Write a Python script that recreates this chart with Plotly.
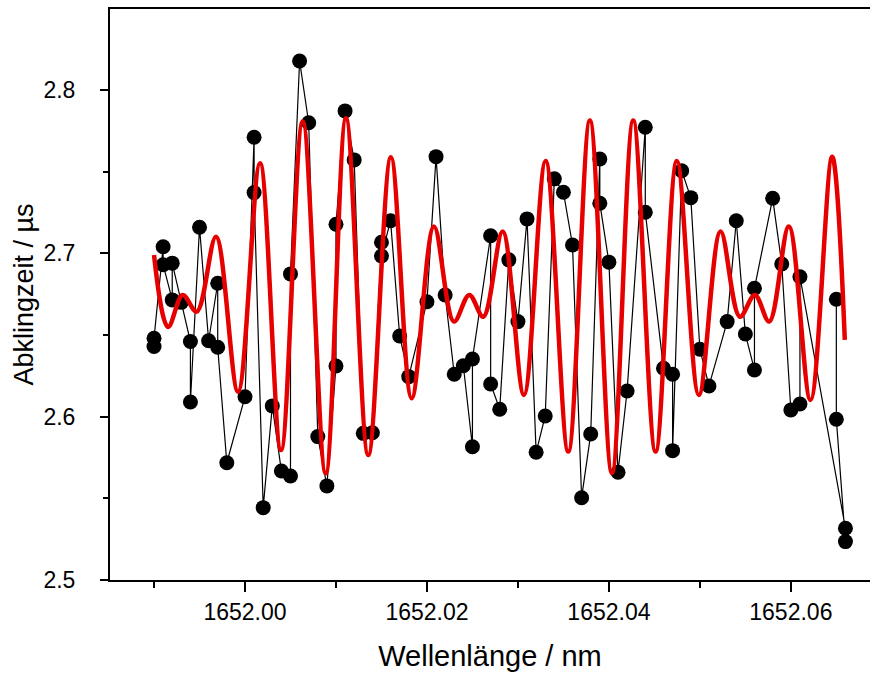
import plotly.graph_objects as go

# measured data (drawing order)
wl = [1651.990, 1651.990, 1651.991, 1651.991, 1651.992, 1651.992, 1651.993, 1651.994, 1651.994,
      1651.995, 1651.996, 1651.997, 1651.997, 1651.998, 1652.000, 1652.001, 1652.001, 1652.002,
      1652.003, 1652.004, 1652.005, 1652.005, 1652.006, 1652.007, 1652.008, 1652.009, 1652.010,
      1652.010, 1652.011, 1652.012, 1652.013, 1652.014, 1652.015, 1652.015, 1652.016, 1652.017,
      1652.018, 1652.020, 1652.021, 1652.022, 1652.023, 1652.024, 1652.025, 1652.025, 1652.027,
      1652.027, 1652.028, 1652.029, 1652.030, 1652.031, 1652.032, 1652.033, 1652.034, 1652.035,
      1652.036, 1652.037, 1652.038, 1652.039, 1652.039, 1652.040, 1652.041, 1652.042, 1652.044,
      1652.044, 1652.046, 1652.047, 1652.047, 1652.048, 1652.049, 1652.050, 1652.051, 1652.053,
      1652.054, 1652.055, 1652.056, 1652.056, 1652.058, 1652.059, 1652.060, 1652.061, 1652.061,
      1652.066, 1652.066, 1652.065, 1652.065]
tau = [2.643, 2.648, 2.704, 2.693, 2.6715, 2.694, 2.670, 2.646, 2.609,
       2.716, 2.6465, 2.6817, 2.6425, 2.5718, 2.6122, 2.7711, 2.7372, 2.5443,
       2.6066, 2.5667, 2.5637, 2.6874, 2.8178, 2.780, 2.5878, 2.5576, 2.631,
       2.7178, 2.7872, 2.7572, 2.5898, 2.5902, 2.7068, 2.6984, 2.720, 2.6494,
       2.6245, 2.6704, 2.7592, 2.6745, 2.626, 2.6312, 2.5816, 2.6353, 2.7108,
       2.620, 2.6045, 2.696, 2.6582, 2.7211, 2.5782, 2.6004, 2.7456, 2.7374,
       2.7051, 2.5504, 2.5894, 2.7578, 2.7307, 2.6946, 2.566, 2.6157, 2.7772,
       2.7252, 2.6296, 2.626, 2.5792, 2.7506, 2.7341, 2.6413, 2.6188, 2.6582,
       2.720, 2.6506, 2.6286, 2.6786, 2.7337, 2.6935, 2.6041, 2.6078, 2.6857,
       2.5317, 2.5235, 2.5984, 2.6719]

# fit curve, read at its extrema
fit_wl = [1651.9900, 1651.99154, 1651.99315, 1651.99469, 1651.99681, 1651.99923, 1652.00165,
          1652.00396, 1652.00634, 1652.00887, 1652.01110, 1652.01355, 1652.01604, 1652.01832,
          1652.02077, 1652.02297, 1652.02465, 1652.02619, 1652.02832, 1652.03066, 1652.03304,
          1652.03553, 1652.03791, 1652.04033, 1652.04267, 1652.04513, 1652.04747, 1652.04989,
          1652.05227, 1652.05440, 1652.05604, 1652.05762, 1652.05978, 1652.06216, 1652.06454,
          1652.06593]
fit_tau = [2.6990, 2.6549, 2.6745, 2.6643, 2.7102, 2.6153, 2.7552,
           2.5796, 2.7807, 2.5653, 2.7827, 2.5765, 2.7588, 2.6113,
           2.7164, 2.6582, 2.6745, 2.6612, 2.7133, 2.6133, 2.7566,
           2.5786, 2.7813, 2.5655, 2.7813, 2.5786, 2.7566, 2.6133,
           2.7133, 2.6612, 2.6745, 2.6582, 2.7164, 2.6102, 2.7592,
           2.6470]

fig = go.Figure()
fig.add_trace(go.Scatter(x=wl, y=tau, mode="lines+markers",
                         line=dict(color="black", width=1.2),
                         marker=dict(color="black", size=15), showlegend=False))
fig.add_trace(go.Scatter(x=fit_wl, y=fit_tau, mode="lines",
                         line=dict(color="rgb(230,0,0)", width=4.5, shape="spline", smoothing=1.0),
                         showlegend=False))

font = "Liberation Sans, Arial, sans-serif"
fig.update_layout(
    width=870, height=675,
    margin=dict(l=110, r=0, t=9, b=95),
    paper_bgcolor="white", plot_bgcolor="white",
    font=dict(family=font, color="black"),
    xaxis=dict(range=[1651.98516, 1652.0687], tick0=1652.0, dtick=0.02, tickformat=".2f",
               showgrid=False, zeroline=False, showline=True, linecolor="black", linewidth=2,
               mirror=True, ticks="outside", ticklen=10, tickwidth=2, tickcolor="black",
               tickfont=dict(size=23),
               minor=dict(ticks="outside", dtick=0.05 / 5, ticklen=6, tickwidth=2, tickcolor="black"),
               title=dict(text="Wellenlänge / nm", font=dict(size=29), standoff=22)),
    yaxis=dict(range=[2.5, 2.8496], tick0=2.5, dtick=0.1, tickformat=".1f",
               showgrid=False, zeroline=False, showline=True, linecolor="black", linewidth=2,
               mirror=False, ticks="outside", ticklen=8, tickwidth=2, tickcolor="black",
               tickfont=dict(size=23), ticklabelstandoff=20,
               minor=dict(ticks="outside", dtick=0.05, ticklen=5, tickwidth=2, tickcolor="black"),
               title=dict(text="Abklingzeit / µs", font=dict(size=27), standoff=2)),
)
fig.write_html("out.html")
